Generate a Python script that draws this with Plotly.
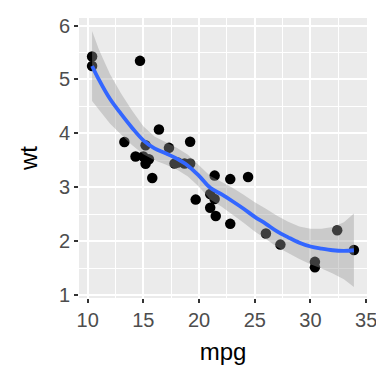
import plotly.graph_objects as go

# mtcars data
mpg = [21.0, 21.0, 22.8, 21.4, 18.7, 18.1, 14.3, 24.4, 22.8, 19.2, 17.8, 16.4, 17.3, 15.2,
       10.4, 10.4, 14.7, 32.4, 30.4, 33.9, 21.5, 15.5, 15.2, 13.3, 19.2, 27.3, 26.0, 30.4,
       15.8, 19.7, 15.0, 21.4]
wt = [2.620, 2.875, 2.320, 3.215, 3.440, 3.460, 3.570, 3.190, 3.150, 3.440, 3.440, 4.070,
      3.730, 3.780, 5.250, 5.424, 5.345, 2.200, 1.615, 1.835, 2.465, 3.520, 3.435, 3.840,
      3.845, 1.935, 2.140, 1.513, 3.170, 2.770, 3.570, 2.780]

# smooth curve and confidence band
smooth_x = [10.4, 11, 12, 13, 14, 15, 16, 17, 18, 19, 20, 21, 22, 23, 24, 25, 26, 27, 28,
            29, 30, 31, 32, 33, 33.9]
smooth_fit = [5.25, 5.00, 4.64, 4.36, 4.10, 3.87, 3.72, 3.63, 3.53, 3.40, 3.21, 2.99, 2.87,
              2.74, 2.60, 2.45, 2.32, 2.18, 2.07, 1.97, 1.90, 1.86, 1.83, 1.82, 1.83]
smooth_upper = [5.90, 5.56, 5.10, 4.74, 4.42, 4.13, 3.94, 3.84, 3.73, 3.60, 3.41, 3.21, 3.10,
                2.99, 2.86, 2.72, 2.60, 2.47, 2.36, 2.27, 2.23, 2.23, 2.26, 2.35, 2.51]
smooth_lower = [4.60, 4.44, 4.18, 3.98, 3.78, 3.61, 3.50, 3.42, 3.33, 3.20, 3.01, 2.77, 2.64,
                2.49, 2.34, 2.18, 2.04, 1.89, 1.78, 1.67, 1.57, 1.49, 1.40, 1.29, 1.15]

x_ticks = [10, 15, 20, 25, 30, 35]
y_ticks = [1, 2, 3, 4, 5, 6]

font_family = "Liberation Sans, Arial, Helvetica, sans-serif"

fig = go.Figure()
fig.add_trace(go.Scatter(x=mpg, y=wt, mode="markers",
                         marker=dict(color="black", size=10.5, line=dict(width=0)),
                         hoverinfo="skip", cliponaxis=False))
fig.add_trace(go.Scatter(x=smooth_x + smooth_x[::-1], y=smooth_upper + smooth_lower[::-1],
                         mode="lines", fill="toself", fillcolor="rgba(153,153,153,0.4)",
                         line=dict(width=0), hoverinfo="skip"))
fig.add_trace(go.Scatter(x=smooth_x, y=smooth_fit, mode="lines",
                         line=dict(color="#3366FF", width=3.8, shape="spline"),
                         hoverinfo="skip"))

axis_common = dict(
    showgrid=True, gridcolor="white", gridwidth=1.6,
    zeroline=False, showline=False,
    ticks="outside", ticklen=4, tickwidth=1.6, tickcolor="#333333",
    tickfont=dict(family=font_family, size=20, color="#4D4D4D"),
    title_font=dict(family=font_family, size=24, color="black"),
)

# page body has an 8px margin: figure is 376x376 placed at (8, 8)
fig.update_layout(
    width=376, height=376,
    margin=dict(l=71, r=15, t=7, b=86),
    paper_bgcolor="white", plot_bgcolor="#EBEBEB",
    showlegend=False,
    xaxis=dict(range=[9.225, 35.075], tickvals=x_ticks, title=dict(text="mpg", standoff=13),
               minor=dict(dtick=2.5, tick0=7.5, showgrid=True, gridcolor="white", gridwidth=0.8),
               **axis_common),
    yaxis=dict(range=[0.944, 6.14], tickvals=y_ticks, title=dict(text="wt", standoff=14),
               minor=dict(dtick=0.5, tick0=0.5, showgrid=True, gridcolor="white", gridwidth=0.8),
               **axis_common),
)

fig.write_html("out.html")
